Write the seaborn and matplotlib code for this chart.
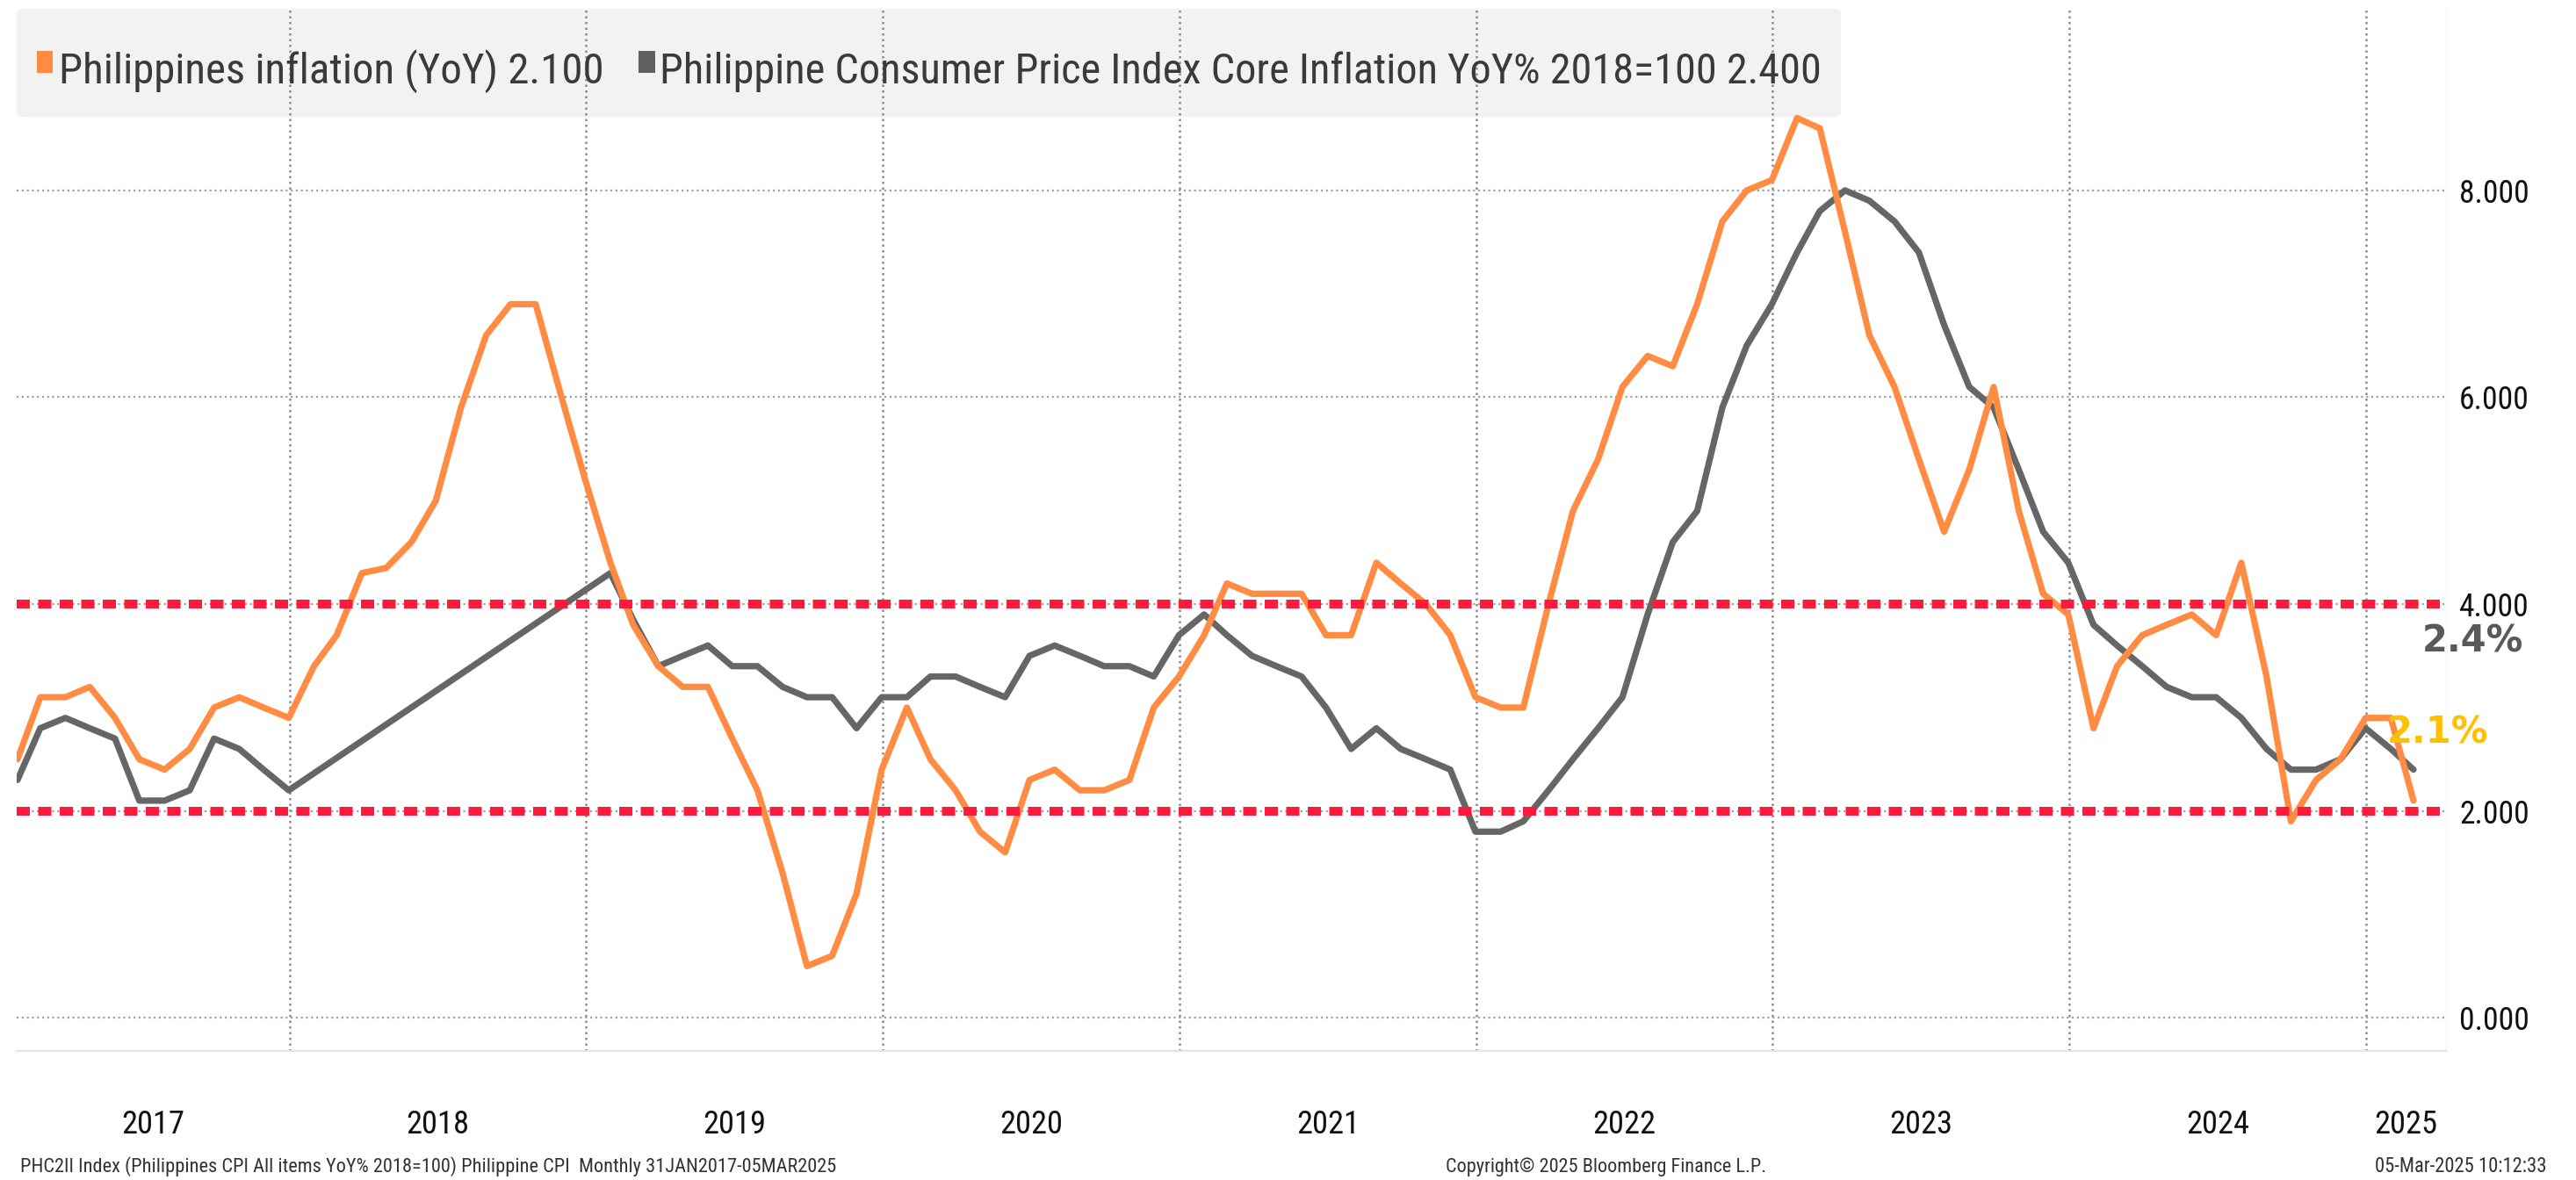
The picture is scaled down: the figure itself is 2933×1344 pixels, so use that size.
import numpy as np
import pandas as pd
import matplotlib
matplotlib.use('Agg')
import matplotlib.pyplot as plt
import matplotlib.dates as mdates
import seaborn as sns
from matplotlib import font_manager as fm
from matplotlib.patches import FancyBboxPatch, Rectangle
from matplotlib.ticker import FormatStrFormatter

# monthly YoY %, Jan 2017 - Feb 2025
headline = [2.5, 3.1, 3.1, 3.2, 2.9, 2.5, 2.4, 2.6, 3.0, 3.1, 3.0, 2.9,
            3.4, 3.7, 4.3, 4.35, 4.6, 5.0, 5.9, 6.6, 6.9, 6.9, 6.05, 5.2,
            4.4, 3.8, 3.4, 3.2, 3.2, 2.7, 2.2, 1.4, 0.5, 0.6, 1.2, 2.4,
            3.0, 2.5, 2.2, 1.8, 1.6, 2.3, 2.4, 2.2, 2.2, 2.3, 3.0, 3.3,
            3.7, 4.2, 4.1, 4.1, 4.1, 3.7, 3.7, 4.4, 4.2, 4.0, 3.7, 3.1,
            3.0, 3.0, 4.0, 4.9, 5.4, 6.1, 6.4, 6.3, 6.9, 7.7, 8.0, 8.1,
            8.7, 8.6, 7.6, 6.6, 6.1, 5.4, 4.7, 5.3, 6.1, 4.9, 4.1, 3.9,
            2.8, 3.4, 3.7, 3.8, 3.9, 3.7, 4.4, 3.3, 1.9, 2.3, 2.5, 2.9,
            2.9, 2.1]
core = [2.3, 2.8, 2.9, 2.8, 2.7, 2.1, 2.1, 2.2, 2.7, 2.6, 2.4, 2.2,
        np.nan, np.nan, np.nan, np.nan, np.nan, np.nan,
        np.nan, np.nan, np.nan, np.nan, np.nan, np.nan,
        4.3, 3.85, 3.4, 3.5, 3.6, 3.4, 3.4, 3.2, 3.1, 3.1, 2.8, 3.1,
        3.1, 3.3, 3.3, 3.2, 3.1, 3.5, 3.6, 3.5, 3.4, 3.4, 3.3, 3.7,
        3.9, 3.7, 3.5, 3.4, 3.3, 3.0, 2.6, 2.8, 2.6, 2.5, 2.4, 1.8,
        1.8, 1.9, 2.2, 2.5, 2.8, 3.1, 3.9, 4.6, 4.9, 5.9, 6.5, 6.9,
        7.4, 7.8, 8.0, 7.9, 7.7, 7.4, 6.7, 6.1, 5.9, 5.3, 4.7, 4.4,
        3.8, 3.6, 3.4, 3.2, 3.1, 3.1, 2.9, 2.6, 2.4, 2.4, 2.5, 2.8,
        2.6, 2.4]
dates = pd.date_range('2017-01-31', periods=len(headline), freq='ME')

name_head = 'Philippines inflation (YoY) 2.100'
name_core = 'Philippine Consumer Price Index Core Inflation YoY% 2018=100 2.400'
years = list(range(2017, 2026))
yticks = [0, 2, 4, 6, 8]
band = [2, 4]

W, H, DPI = 2933, 1344, 100
orange, grey, red = '#ff8c42', '#666666', '#ff1a3c'

sns.set_style('white')
avail = {f.name for f in fm.fontManager.ttflist}
narrow = next((n for n in ['Liberation Sans Narrow', 'Roboto Condensed',
                           'Open Sans Condensed', 'Liberation Sans'] if n in avail), 'DejaVu Sans')
plt.rcParams['font.family'] = [narrow, 'DejaVu Sans']

df = pd.DataFrame({'date': dates, name_head: headline, name_core: core})
long = df.melt(id_vars='date', var_name='series', value_name='value')

fig = plt.figure(figsize=(W / DPI, H / DPI), dpi=DPI)
px = lambda x, y: (x / W, 1 - y / H)  # pixel (from top-left) -> figure fraction
ax = fig.add_axes([19 / W, 1 - 1197 / H, (2785 - 19) / W, (1197 - 8) / H])
ax.set_facecolor('none')

# legend box sits behind the axes grid
x0, y0 = px(19, 133)
x1, y1 = px(2096, 10)
fig.patches.append(FancyBboxPatch((x0, y0), x1 - x0, y1 - y0, boxstyle='round,pad=0,rounding_size=0.003',
                                  transform=fig.transFigure, fc='#f2f2f2', ec='none', zorder=-1))

sns.lineplot(data=long, x='date', y='value', hue='series', hue_order=[name_core, name_head],
             palette={name_head: orange, name_core: grey}, lw=5.2, ax=ax, legend=False)

for b in band:
    ax.axhline(b, xmax=0.9975, color=red, lw=7.2, dashes=(1.5, 0.95), zorder=5)

ax.set_xlim(pd.Timestamp('2017-01-30'), pd.Timestamp('2025-04-09'))
ax.set_ylim(-0.32, 9.773)
ax.set_xlabel('')
ax.set_ylabel('')

ax.yaxis.tick_right()
ax.set_yticks(yticks)
ax.yaxis.set_major_formatter(FormatStrFormatter('%.3f'))
ax.tick_params(axis='y', length=0, pad=10.8, labelsize=28, labelcolor='#111111')
ax.yaxis.grid(True, color='#a0a0a0', ls=(0, (1, 1.6)), lw=1.6)

ax.xaxis.set_major_locator(mdates.YearLocator())
ax.xaxis.set_minor_locator(mdates.MonthLocator(bymonth=[4, 7, 10]))
ax.xaxis.set_major_formatter(plt.NullFormatter())
ax.tick_params(axis='x', which='major', length=79, width=1, color='#efefef')
ax.tick_params(axis='x', which='minor', length=4.5, width=1.2, color='#e2e2e2')
ax.xaxis.grid(True, which='major', color='#8c8c8c', ls=(0, (1, 1.6)), lw=1.8)

for s in ['left', 'top']:
    ax.spines[s].set_visible(False)
ax.spines['bottom'].set_color('#e4e4e4')
ax.spines['bottom'].set_linewidth(1.5)
ax.spines['right'].set_color('#f4f4f4')

# year labels centred on the visible part of each year
lo, hi = ax.get_xlim()
centres, labels = [], []
for y in years:
    a = max(mdates.date2num(pd.Timestamp(f'{y}-01-01')), lo)
    b = min(mdates.date2num(pd.Timestamp(f'{y + 1}-01-01')), hi)
    centres.append((a + b) / 2)
    labels.append(str(y))
sec = ax.secondary_xaxis('bottom')
sec.set_xticks(centres)
sec.set_xticklabels(labels)
sec.tick_params(length=0, pad=47.5, labelsize=26, labelcolor='#111111')
sec.spines['bottom'].set_visible(False)

# end-value annotations
ax.text(pd.Timestamp('2025-03-10'), 3.64, '2.4%', ha='left', va='center', fontsize=30,
        weight='bold', color='#595959', family='DejaVu Sans', clip_on=False, zorder=10)
ax.text(pd.Timestamp('2025-01-26'), 2.76, '2.1%', ha='left', va='center', fontsize=30,
        weight='bold', color='#ffc000', family='DejaVu Sans', clip_on=False, zorder=10)

# legend entries
for (xa, xb), col in [((42, 60), orange), ((727, 746), '#606060')]:
    rx, ry = px(xa, 83)
    fig.patches.append(Rectangle((rx, ry), (xb - xa) / W, 25 / H, transform=fig.transFigure,
                                 fc=col, ec='none'))
t1 = fig.text(*px(67, 95), name_head, fontsize=36, color='#3a3a3a', va='baseline')
t2 = fig.text(*px(751, 95), name_core, fontsize=36, color='#3a3a3a', va='baseline')

f1 = fig.text(*px(23, 1335), 'PHC2II Index (Philippines CPI All items YoY% 2018=100) Philippine CPI  Monthly 31JAN2017-05MAR2025',
              fontsize=16, color='#333333', va='baseline')
f2 = fig.text(*px(1646, 1335), 'Copyright\u00a9 2025 Bloomberg Finance L.P.', fontsize=16, color='#333333', va='baseline')
f3 = fig.text(*px(2900, 1335), '05-Mar-2025 10:12:33', fontsize=16, color='#333333', va='baseline', ha='right')

# scale texts so their widths match the reference
fig.canvas.draw()
r = fig.canvas.get_renderer()
def fit(t, w):
    t.set_fontsize(t.get_fontsize() * w / t.get_window_extent(r).width)
for t, w in [(t1, 621), (t2, 1323), (f1, 931), (f2, 365), (f3, 197)]:
    fit(t, w)
ylab = ax.get_yticklabels()[-1]
ax.tick_params(axis='y', labelsize=28 * 80 / ylab.get_window_extent(r).width)
xlab = sec.get_xticklabels()[0]
sec.tick_params(labelsize=26 * 72 / xlab.get_window_extent(r).width)

fig.savefig('out.png', dpi=DPI)
